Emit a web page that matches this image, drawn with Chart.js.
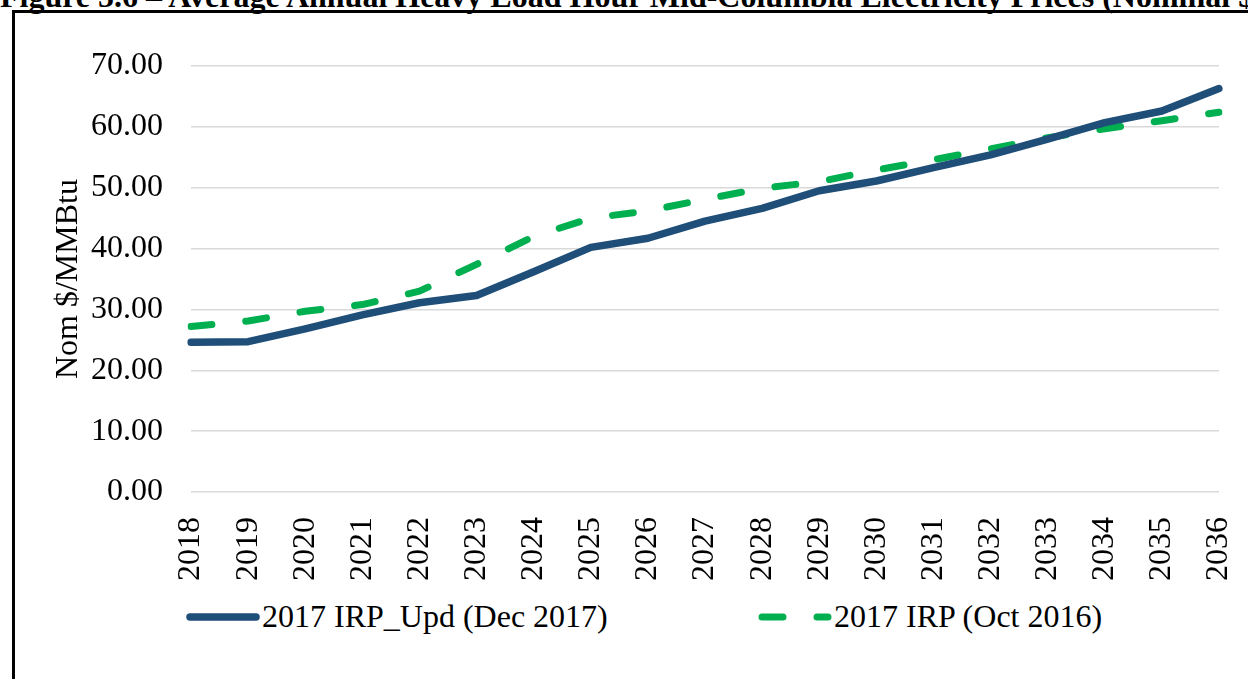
<!DOCTYPE html>
<html>
<head>
<meta charset="utf-8">
<script src="https://cdn.jsdelivr.net/npm/chart.js@4.4.1/dist/chart.umd.min.js"></script>
<style>
  html, body { margin: 0; padding: 0; background: #fff; overflow: hidden; width: 1248px; height: 679px; }
  #caption {
    position: absolute; left: 0; top: -20px; white-space: nowrap;
    font: bold 32px/32px "Liberation Serif", "Times New Roman", serif; color: #000;
  }
  #frame {
    position: absolute; left: 12px; top: 10px; width: 1300px; height: 700px;
    border: 3px solid #000; box-sizing: border-box;
  }
  #chartWrap { position: absolute; left: 15px; top: 13px; }
  .legend-item {
    position: absolute; top: 598px; display: flex; align-items: center;
    font: 32px "Liberation Serif", "Times New Roman", serif; color: #000; white-space: nowrap;
  }
  .legend-item svg { display: block; margin-right: 2px; }
</style>
</head>
<body>
<div id="caption">Figure 5.6 – Average Annual Heavy Load Hour Mid-Columbia Electricity Prices (Nominal $/MWh)</div>
<div id="frame"></div>
<div id="chartWrap"><canvas id="priceChart" width="1240" height="580"></canvas></div>
<div id="legend"></div>

<script>
// Data
const years = ['2018', '2019', '2020', '2021', '2022', '2023', '2024', '2025', '2026', '2027',
               '2028', '2029', '2030', '2031', '2032', '2033', '2034', '2035', '2036'];
const seriesNames = ['2017 IRP_Upd (Dec 2017)', '2017 IRP (Oct 2016)'];
const irpUpdDec2017 = [24.6, 24.7, 26.8, 29.1, 31.1, 32.3, 36.2, 40.2, 41.7, 44.5,
                       46.6, 49.5, 51.1, 53.3, 55.4, 58.0, 60.7, 62.6, 66.3];
const irpOct2016 = [27.2, 28.1, 29.7, 30.8, 33.0, 37.4, 42.0, 45.0, 46.2, 48.1,
                    49.9, 51.0, 52.9, 54.6, 56.4, 58.2, 59.7, 61.0, 62.4];
const yTicks = [0, 10, 20, 30, 40, 50, 60, 70];

const FONT = '"Liberation Serif", "Times New Roman", serif';

// Legend built from the chart datasets (drawn as html below the plot)
function buildLegend(chart) {
  const legendBox = document.getElementById('legend');
  const lefts = [186, 758];
  legendBox.innerHTML = '';
  chart.data.datasets.forEach((ds, i) => {
    const dash = ds.borderDash && ds.borderDash.length ? ds.borderDash.join(' ') : 'none';
    const item = document.createElement('div');
    item.className = 'legend-item';
    item.style.left = lefts[i] + 'px';
    item.innerHTML = `
      <svg width="74" height="12">
        <line x1="4" y1="6" x2="70" y2="6" stroke="${ds.borderColor}" stroke-width="${ds.borderWidth}"
              stroke-linecap="round" stroke-dasharray="${dash}"/>
      </svg>
      <span>${ds.label}</span>`;
    legendBox.appendChild(item);
  });
}

function createChart() {
  const ctx = document.getElementById('priceChart').getContext('2d');

  const chart = new Chart(ctx, {
    type: 'line',
    data: {
      labels: years,
      datasets: [{
        label: seriesNames[0],
        data: irpUpdDec2017,
        borderColor: '#1f4e79',
        borderWidth: 7.5,
        borderCapStyle: 'round',
        borderJoinStyle: 'round',
        pointRadius: 0,
        tension: 0,
        fill: false
      }, {
        label: seriesNames[1],
        data: irpOct2016,
        borderColor: '#00b050',
        borderWidth: 7,
        borderDash: [21, 34],
        borderCapStyle: 'round',
        borderJoinStyle: 'round',
        pointRadius: 0,
        tension: 0,
        fill: false
      }]
    },
    options: {
      responsive: false,
      animation: false,
      layout: { padding: { top: 53, right: 36, bottom: 1, left: 0 } },
      scales: {
        x: {
          offset: false,
          grid: { display: false },
          border: { display: false },
          ticks: {
            color: '#000',
            font: { family: FONT, size: 32 },
            minRotation: 90,
            maxRotation: 90,
            autoSkip: false,
            padding: 17
          },
          afterFit: scale => {
            scale.height = 100;
            scale.paddingLeft = 0;
            scale.paddingRight = 0;
          }
        },
        y: {
          min: 0,
          max: 70,
          afterBuildTicks: scale => { scale.ticks = yTicks.map(v => ({ value: v })); },
          grid: { color: '#d9d9d9', lineWidth: 1.5, drawTicks: false },
          border: { display: false },
          ticks: {
            color: '#000',
            font: { family: FONT, size: 32 },
            padding: 28,
            callback: v => Number(v).toFixed(2)
          },
          title: {
            display: true,
            text: 'Nom $/MMBtu',
            color: '#000',
            font: { family: FONT, size: 32 },
            padding: { top: 34, bottom: 0 }
          },
          afterFit: scale => {
            scale.width = 176;
            scale.paddingTop = 0;
            scale.paddingBottom = 0;
          }
        }
      },
      plugins: {
        legend: { display: false },
        tooltip: { enabled: false }
      }
    }
  });

  buildLegend(chart);
}

document.addEventListener('DOMContentLoaded', function() {
  try {
    createChart();
  } catch (error) {
    console.error('Error creating chart:', error);
  }
});
</script>
</body>
</html>
